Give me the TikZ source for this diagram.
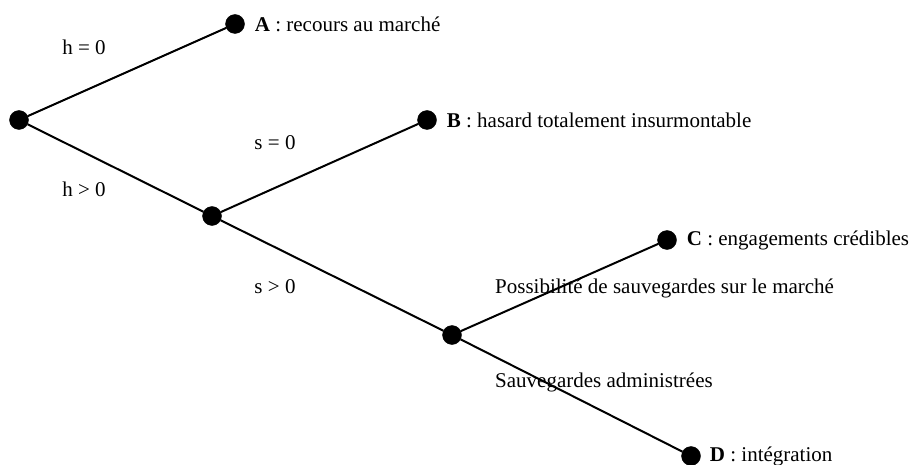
\documentclass[tikz,border=0pt]{standalone}
\usepackage{fontspec}
\setmainfont{Liberation Serif}
\usetikzlibrary{positioning}

\begin{document}
\begin{tikzpicture}
                    [
                        x=1pt, y=-1pt,
                        every node/.style={font=\fontsize{21}{25}\selectfont},
                        dot/.style={draw,circle,fill=black,minimum size=19pt,inner sep=0pt},
                        leaf/.style={inner sep=0pt},
                        branch/.style={line width=2pt}
                    ]
                    
                    % Rahmen
                    \useasboundingbox (0,0) rectangle (912,465);
                    
                    % Knoten
                    \node[dot] (R) at (19,120) {};
                    \node[dot] (A) at (235,24) {};
                    \node[dot] (H) at (212,216) {};
                    \node[dot] (B) at (427,120) {};
                    \node[dot] (S) at (452,335) {};
                    \node[dot] (C) at (667,240) {};
                    \node[dot] (D) at (691,456) {};
                    
                    % Kanten
                    \draw[branch] (R) -- (A);
                    \draw[branch] (R) -- (H);
                    \draw[branch] (H) -- (B);
                    \draw[branch] (H) -- (S);
                    \draw[branch] (S) -- (C);
                    \draw[branch] (S) -- (D);
                    
                    % Beschriftungen
                    \node[leaf, right=10pt of A] (Alab) {\textbf{A} : recours au marché};
                    \node[leaf, right=10pt of B] (Blab) {\textbf{B} : hasard totalement insurmontable};
                    \node[leaf, right=10pt of C] (Clab) {\textbf{C} : engagements crédibles};
                    \node[leaf, right=9pt of D] (Dlab) {\textbf{D} : intégration};
                    
                    \node (h0) at (84,47) {h = 0};
                    \node (h1) at (84,189) {h > 0};
                    \node (s0) at (275,143) {s = 0};
                    \node (s1) at (275,287) {s > 0};
                    \node[leaf, anchor=west] (market) at (495,288) {Possibilité de sauvegardes sur le marché};
                    \node[leaf, anchor=west] (admin) at (495,382) {Sauvegardes administrées};
                \end{tikzpicture}
\end{document}
